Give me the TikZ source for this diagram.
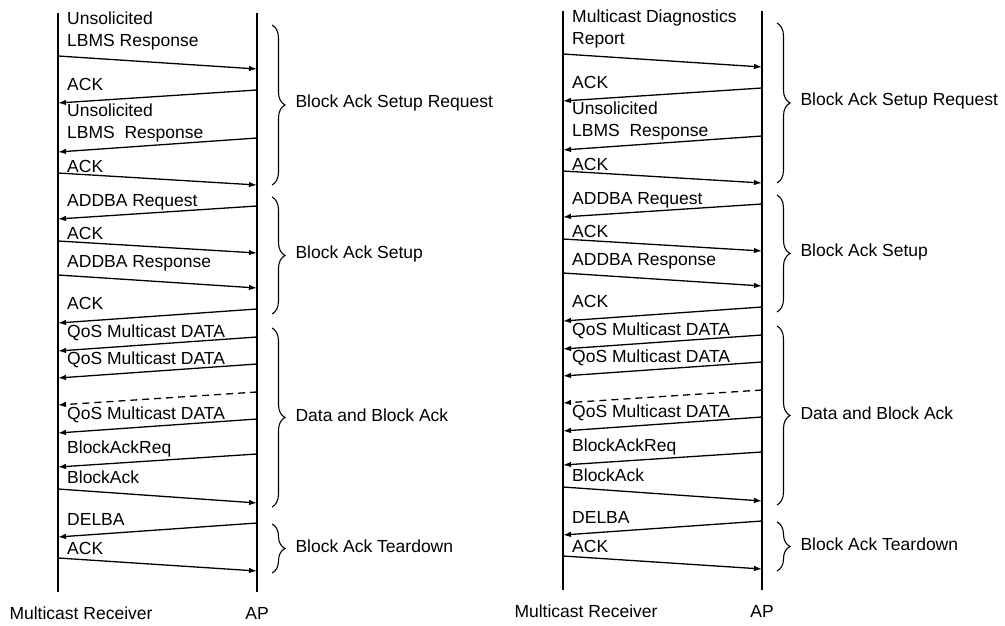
\documentclass[tikz,border=0pt]{standalone}
\usepackage{fontspec}
\setmainfont{Liberation Sans}
\usetikzlibrary{arrows.meta, decorations.pathreplacing}

\tikzset{
  lifeline/.style={line width=2.8pt},
  msgline/.style={line width=1.3pt, -{Latex[length=8pt,width=5.5pt]}},
  msgdash/.style={dash pattern=on 7pt off 5pt},
  msgtext/.style={anchor=west, inner sep=0pt, align=left, font=\fontsize{17.5}{22}\selectfont},
  groupbrace/.style={decorate, decoration={brace, amplitude=13pt}, line width=1.1pt},
  grouptext/.style={anchor=west, inner sep=0pt, font=\fontsize{17.5}{22}\selectfont},
  actorname/.style={inner sep=0pt, font=\fontsize{17.5}{22}\selectfont}
}

\begin{document}
\begin{tikzpicture}[x=1pt, y=-1pt]
  \useasboundingbox (0,0) rectangle (1005,626);

  % one panel per procedure
  \foreach \p/\dx/\dy/\first in {L/0/0/{Unsolicited\\LBMS Response}, R/505/-2/{Multicast Diagnostics\\Report}} {
    \begin{scope}[shift={(\dx,\dy)}]
      % lifelines
      \coordinate (\p rxtop) at (58,13);
      \coordinate (\p rxbot) at (58,592);
      \coordinate (\p aptop) at (257,13);
      \coordinate (\p apbot) at (257,592);
      \draw[lifeline] (\p rxtop) -- (\p rxbot);
      \draw[lifeline] (\p aptop) -- (\p apbot);
      \node[actorname] (\p rxname) at (81,613) {Multicast Receiver};
      \node[actorname] (\p apname) at (257,613) {AP};

      % messages
      \foreach \i/\from/\to/\ya/\yb/\ty/\txt/\opt in {
          1/rx/ap/56/69/31/{\first}/solid,
          2/ap/rx/90/103/84/{ACK}/solid,
          3/ap/rx/138/152/123/{Unsolicited\\LBMS\ \ Response}/solid,
          4/rx/ap/173/185/166/{ACK}/solid,
          5/ap/rx/206/219/202/{ADDBA Request}/solid,
          6/rx/ap/241/253/233/{ACK}/solid,
          7/rx/ap/275/288/263/{ADDBA Response}/solid,
          8/ap/rx/309/323/303/{ACK}/solid,
          9/ap/rx/337/351/333/{QoS Multicast DATA}/solid,
          10/ap/rx/364/378/360/{QoS Multicast DATA}/solid,
          11/ap/rx/392/405/392/{}/msgdash,
          12/ap/rx/419/433/415/{QoS Multicast DATA}/solid,
          13/ap/rx/454/467/449/{BlockAckReq}/solid,
          14/rx/ap/489/503/477/{BlockAck}/solid,
          15/ap/rx/523/537/519/{DELBA}/solid,
          16/rx/ap/558/571/548/{ACK}/solid} {
        \coordinate (\p s\i) at (\p\from top |- 0,\ya);
        \coordinate (\p e\i) at (\p\to top |- 0,\yb);
        \draw[msgline, \opt] (\p s\i) -- (\p e\i);
        \node[msgtext] (\p t\i) at (67,\ty) {\txt};
      }

      % phases
      \foreach \j/\ta/\tb/\gtxt in {
          1/25/185/{Block Ack Setup Request},
          2/197/314/{Block Ack Setup},
          3/328/507/{Data and Block Ack},
          4/524/573/{Block Ack Teardown}} {
        \coordinate (\p ga\j) at (272,\ta);
        \coordinate (\p gb\j) at (272,\tb);
        \draw[groupbrace] (\p ga\j) -- (\p gb\j)
          node[grouptext, midway, xshift=23pt, yshift=2pt] (\p g\j) {\gtxt};
      }
    \end{scope}
  }
\end{tikzpicture}
\end{document}
